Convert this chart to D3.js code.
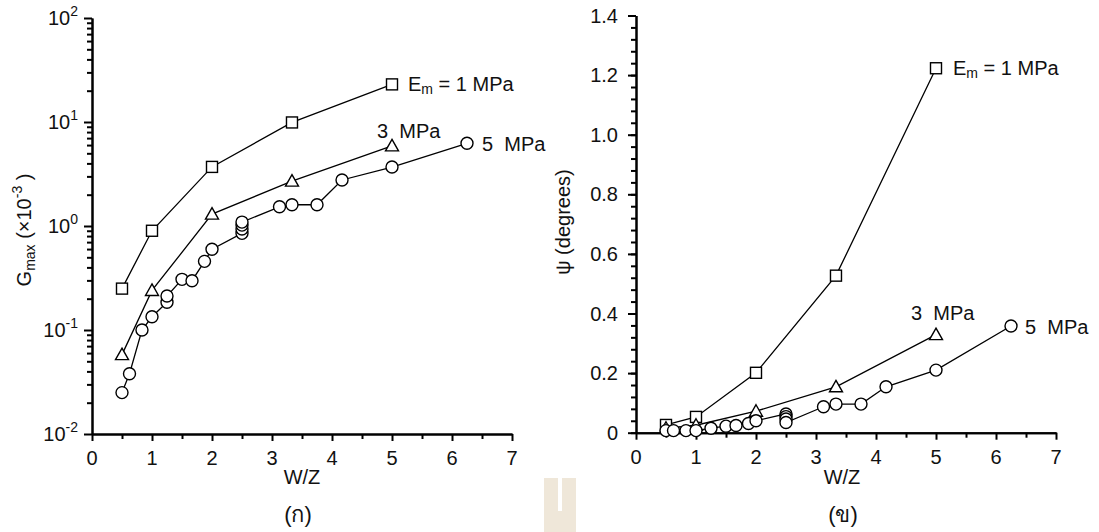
<!DOCTYPE html>
<html>
  <head>
    <script src="https://d3js.org/d3.v7.min.js"></script>
    <style>
      body { margin: 0; background: #fff; }
      svg text { font-family: "Liberation Sans", Arial, sans-serif; fill: #111; }
      .axis path, .axis line { stroke: #000; stroke-width: 2; }
      .ser { fill: none; stroke: #000; stroke-width: 1.3; }
      .mk { fill: #fff; stroke: #000; stroke-width: 1.4; }
    </style>
  </head>
  <body>
    <svg width="1099" height="532"></svg>
  <script>
    // W/Z values
    var wzSq = [0.5, 1, 2, 3.333, 5];
    var wzTri = [0.5, 1, 2, 3.333, 5];
    var wzCircL = [0.5, 0.625, 0.833, 1, 1.25, 1.25, 1.5, 1.667, 1.875, 2, 2.5, 2.5, 2.5, 2.5, 3.125, 3.333, 3.75, 4.167, 5, 6.25];
    var wzCircR = [0.5, 0.625, 0.833, 1, 1.25, 1.5, 1.667, 1.875, 2, 2.5, 2.5, 2.5, 2.5, 3.125, 3.333, 3.75, 4.167, 5, 6.25];

    // (ก) Gmax x10^-3
    var gmax1 = [0.25, 0.9, 3.7, 9.9, 23];
    var gmax3 = [0.058, 0.24, 1.3, 2.7, 5.9];
    var gmax5 = [0.025, 0.038, 0.1, 0.134, 0.185, 0.212, 0.307, 0.298, 0.457, 0.597, 0.85, 0.935, 1.02, 1.09, 1.53, 1.6, 1.6, 2.77, 3.69, 6.24];

    // (ข) psi (degrees)
    var psi1 = [0.026, 0.053, 0.201, 0.527, 1.223];
    var psi3 = [0.015, 0.025, 0.072, 0.154, 0.329];
    var psi5 = [0.007, 0.007, 0.007, 0.007, 0.015, 0.022, 0.024, 0.031, 0.040, 0.063, 0.054, 0.046, 0.034, 0.087, 0.096, 0.096, 0.154, 0.210, 0.358];

    var xTicks = [0, 1, 2, 3, 4, 5, 6, 7];
    var logTicks = [-2, -1, 0, 1, 2];
    var psiTicks = [0, 0.2, 0.4, 0.6, 0.8, 1.0, 1.2, 1.4];

    var fs = 20, fsSmall = 14;
    var svg = d3.select("svg");

    function zip(xs, ys) { return xs.map(function(d, i) { return [d, ys[i]]; }); }

    function drawSeries(g, x, y, pts, shape) {
      g.append("path").attr("class", "ser")
        .attr("d", d3.line().x(function(d) { return x(d[0]); }).y(function(d) { return y(d[1]); })(pts));
      var m = g.append("g");
      pts.forEach(function(d) {
        var cx = x(d[0]), cy = y(d[1]);
        if (shape == "sq") {
          m.append("rect").attr("class", "mk").attr("x", cx - 5.5).attr("y", cy - 5.5).attr("width", 11).attr("height", 11);
        } else if (shape == "tri") {
          m.append("path").attr("class", "mk")
            .attr("d", "M" + cx + "," + (cy - 6.5) + "L" + (cx + 6.5) + "," + (cy + 5) + "L" + (cx - 6.5) + "," + (cy + 5) + "Z");
        } else {
          m.append("circle").attr("class", "mk").attr("cx", cx).attr("cy", cy).attr("r", 6);
        }
      });
    }

    function xAxis(g, x, y0) {
      var half = d3.range(0.5, 7, 1);
      g.append("g").attr("class", "axis").attr("transform", "translate(0," + y0 + ")")
        .call(d3.axisBottom(x).tickValues(half).tickSize(5).tickSizeOuter(0).tickFormat(""));
      g.append("g").attr("class", "axis").attr("transform", "translate(0," + y0 + ")")
        .call(d3.axisBottom(x).tickValues(xTicks).tickSize(7).tickSizeOuter(0).tickFormat(""));
      g.selectAll(".xl").data(xTicks).enter().append("text")
        .attr("x", function(d) { return x(d); }).attr("y", y0 + 31)
        .attr("text-anchor", "middle").attr("font-size", fs).text(function(d) { return d; });
    }

    function emLabel(g, x, y) {
      var t = g.append("text").attr("x", x).attr("y", y).attr("font-size", fs).attr("xml:space", "preserve");
      t.append("tspan").text("E");
      t.append("tspan").attr("font-size", fsSmall).attr("dy", 3).text("m");
      t.append("tspan").attr("dy", -3).text(" = 1 MPa");
    }

    // ---------- (ก) left ----------
    var xL = d3.scaleLinear().domain([0, 7]).range([92, 512]);
    var yL = d3.scaleLog().domain([0.01, 100]).range([434, 18]);
    var gL = svg.append("g");

    var minorLog = yL.ticks().filter(function(d) { return logTicks.indexOf(Math.round(Math.log10(d) * 1000) / 1000) < 0; });
    gL.append("g").attr("class", "axis").attr("transform", "translate(92,0)")
      .call(d3.axisLeft(yL).tickValues(minorLog).tickSize(5).tickSizeOuter(0).tickFormat(""));
    gL.append("g").attr("class", "axis").attr("transform", "translate(92,0)")
      .call(d3.axisLeft(yL).tickValues(logTicks.map(function(e) { return Math.pow(10, e); })).tickSize(8).tickSizeOuter(0).tickFormat(""));
    xAxis(gL, xL, 434);

    logTicks.forEach(function(e) {
      var t = gL.append("text").attr("x", 78).attr("y", yL(Math.pow(10, e)) + 7)
        .attr("text-anchor", "end").attr("font-size", fs);
      t.append("tspan").text("10");
      t.append("tspan").attr("font-size", fsSmall).attr("dy", -9).text(e);
    });

    drawSeries(gL, xL, yL, zip(wzSq, gmax1), "sq");
    drawSeries(gL, xL, yL, zip(wzTri, gmax3), "tri");
    drawSeries(gL, xL, yL, zip(wzCircL, gmax5), "circ");

    var yt = gL.append("text").attr("transform", "translate(31,230) rotate(-90)")
      .attr("text-anchor", "middle").attr("font-size", fs).attr("xml:space", "preserve");
    yt.append("tspan").text("G");
    yt.append("tspan").attr("font-size", fsSmall).attr("dy", 4).text("max");
    yt.append("tspan").attr("dy", -4).text(" (\u00d710");
    yt.append("tspan").attr("font-size", fsSmall).attr("dy", -9).text("-3");
    yt.append("tspan").attr("dy", 9).text(" )");

    gL.append("text").attr("x", 302).attr("y", 484).attr("text-anchor", "middle").attr("font-size", fs).text("W/Z");
    gL.append("text").attr("x", 298).attr("y", 522).attr("text-anchor", "middle").attr("font-size", 22).attr("fill", "#333").text("(ก)");

    emLabel(gL, 408, 91);
    gL.append("text").attr("x", 377).attr("y", 138).attr("font-size", fs).attr("xml:space", "preserve").text("3  MPa");
    gL.append("text").attr("x", 482).attr("y", 151).attr("font-size", fs).attr("xml:space", "preserve").text("5  MPa");

    // ---------- (ข) right ----------
    var xR = d3.scaleLinear().domain([0, 7]).range([636, 1056]);
    var yR = d3.scaleLinear().domain([0, 1.4]).range([432.7, 15.5]);
    var gR = svg.append("g");

    gR.append("g").attr("class", "axis").attr("transform", "translate(636,0)")
      .call(d3.axisLeft(yR).tickValues(d3.range(0, 1.401, 0.04)).tickSize(5).tickSizeOuter(0).tickFormat(""));
    gR.append("g").attr("class", "axis").attr("transform", "translate(636,0)")
      .call(d3.axisLeft(yR).tickValues(psiTicks).tickSize(8).tickSizeOuter(0).tickFormat(""));
    xAxis(gR, xR, 432.7);

    gR.selectAll(".yl").data(psiTicks).enter().append("text")
      .attr("x", 618).attr("y", function(d) { return yR(d) + 7; })
      .attr("text-anchor", "end").attr("font-size", fs)
      .text(function(d) { return d == 0 ? "0" : d3.format(".1f")(d); });

    drawSeries(gR, xR, yR, zip(wzSq, psi1), "sq");
    drawSeries(gR, xR, yR, zip(wzTri, psi3), "tri");
    drawSeries(gR, xR, yR, zip(wzCircR, psi5), "circ");

    gR.append("text").attr("transform", "translate(570,222) rotate(-90)")
      .attr("text-anchor", "middle").attr("font-size", fs).text("\u03c8 (degrees)");

    gR.append("text").attr("x", 842).attr("y", 484).attr("text-anchor", "middle").attr("font-size", fs).text("W/Z");
    gR.append("text").attr("x", 843).attr("y", 522).attr("text-anchor", "middle").attr("font-size", 22).attr("fill", "#333").text("(ข)");

    emLabel(gR, 953, 75);
    gR.append("text").attr("x", 911).attr("y", 320).attr("font-size", fs).attr("xml:space", "preserve").text("3  MPa");
    gR.append("text").attr("x", 1025).attr("y", 334).attr("font-size", fs).attr("xml:space", "preserve").text("5  MPa");

    // small beige mark between the panels
    svg.append("rect").attr("x", 544).attr("y", 478).attr("width", 32).attr("height", 54).attr("fill", "#efe7d9");
    svg.append("rect").attr("x", 558).attr("y", 478).attr("width", 4).attr("height", 33).attr("fill", "#fff");
  </script>
  </body>
</html>
